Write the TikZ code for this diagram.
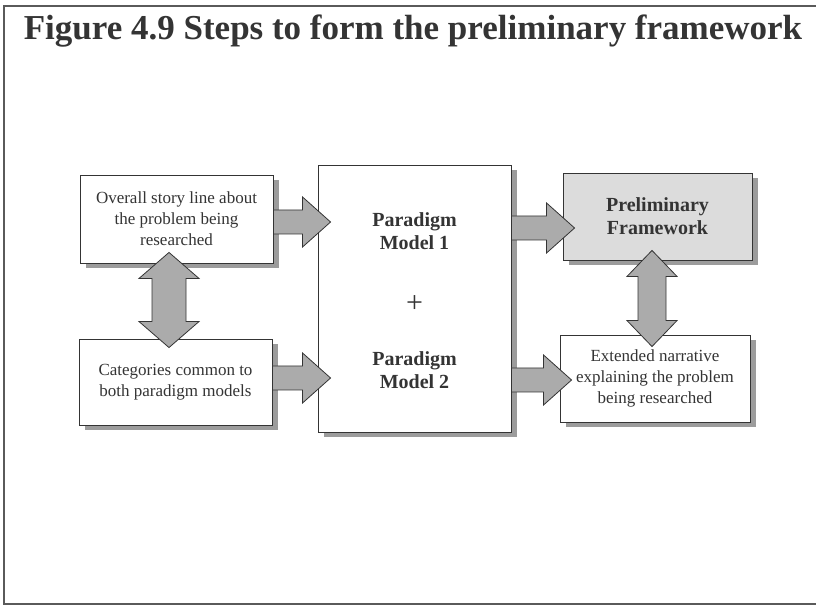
\documentclass[tikz,border=0pt]{standalone}
\usepackage{fontspec}
\setmainfont{Liberation Serif}
\usetikzlibrary{calc,shadows}

\definecolor{ink}{HTML}{343434}
\definecolor{framegray}{HTML}{5A5A5A}
\definecolor{shadowgray}{HTML}{9C9C9C}
\definecolor{arrowgray}{HTML}{ABABAB}
\definecolor{panelgray}{HTML}{DCDCDC}

% horizontal block arrow: tail coordinate, tip coordinate
\newcommand\blockright[2]{%
  \path[fatarrow] let \p1=(#1), \p2=(#2) in
    (\x1,\y1+12) -- (\x2-28,\y1+12) -- (\x2-28,\y1+25) -- (\x2,\y1)
    -- (\x2-28,\y1-25) -- (\x2-28,\y1-12) -- (\x1,\y1-12) -- cycle;}
% vertical two-headed block arrow: top tip, bottom tip, head half width, shaft half width
\newcommand\blockupdown[4]{%
  \path[fatarrow] let \p1=(#1), \p2=(#2) in
    (\x1,\y1) -- (\x1+#3,\y1-26) -- (\x1+#4,\y1-26) -- (\x1+#4,\y2+26)
    -- (\x1+#3,\y2+26) -- (\x1,\y2) -- (\x1-#3,\y2+26) -- (\x1-#4,\y2+26)
    -- (\x1-#4,\y1-26) -- (\x1-#3,\y1-26) -- cycle;}

\begin{document}
\begin{tikzpicture}[x=1pt,y=1pt,
  panel/.style={draw=ink, line width=0.9pt, fill=white, inner sep=0pt,
    align=center, text=ink, font=\fontsize{17}{21}\selectfont,
    drop shadow={shadow xshift=6pt, shadow yshift=-5pt, fill=shadowgray, opacity=1}},
  boldtext/.style={align=center, text=ink, inner sep=0pt,
    font=\fontsize{20}{23}\selectfont\bfseries},
  fatarrow/.style={draw=ink, line width=0.8pt, fill=arrowgray, line join=miter}]

\useasboundingbox (0,0) rectangle (816,608);
\fill[white] (0,0) rectangle (816,608);

% page frame
\draw[framegray, line width=1.2pt] (830,602) -- (4,602) -- (4,4) -- (830,4);

% title
\node[anchor=base, text=ink, inner sep=0pt, font=\fontsize{35}{40}\selectfont\bfseries]
  (title) at (413,568) {Figure 4.9 Steps to form the preliminary framework};

% boxes
\node[panel, minimum width=193pt, minimum height=88pt] (A) at (176.5,389)
  {Overall story line about\\the problem being\\researched};
\node[panel, minimum width=193pt, minimum height=86pt] (B) at (175.5,226)
  {Categories common to\\both paradigm models};
\node[panel, minimum width=193pt, minimum height=267pt] (M) at (414.5,309.5) {};
\node[panel, fill=panelgray, minimum width=189pt, minimum height=87pt,
  font=\fontsize{20}{23}\selectfont\bfseries] (P) at (657.5,391.5)
  {Preliminary\\Framework};
\node[panel, minimum width=190pt, minimum height=87pt] (E) at (655,229.5)
  {Extended narrative\\explaining the problem\\being researched};

% contents of the central box
\node[boldtext] (pm1) at ($(M.center)+(0,67.5)$) {Paradigm\\Model 1};
\node[text=ink, inner sep=0pt, font=\fontsize{30}{32}\selectfont] (plus) at ($(M.center)+(0,-5.5)$) {+};
\node[boldtext] (pm2) at ($(M.center)+(0,-71.5)$) {Paradigm\\Model 2};

% connector end points
\coordinate (a1) at ([yshift=-3pt]A.east);
\coordinate (a2) at ($(M.west |- a1)+(13,0)$);
\coordinate (b1) at ([yshift=4pt]B.east);
\coordinate (b2) at ($(M.west |- b1)+(13,0)$);
\coordinate (p2) at ([xshift=12pt,yshift=-11.5pt]P.west);
\coordinate (p1) at (M.east |- p2);
\coordinate (e2) at ([xshift=12pt,yshift=-1.5pt]E.west);
\coordinate (e1) at (M.east |- e2);
\coordinate (v1) at ($(A.south)+(-7.5,11)$);
\coordinate (v2) at ($(v1 |- B.north)+(0,-9)$);
\coordinate (w1) at ($(P.south)+(-5.5,10)$);
\coordinate (w2) at ($(w1 |- E.north)+(0,-12)$);

% block arrows
\blockright{a1}{a2}
\blockright{b1}{b2}
\blockright{p1}{p2}
\blockright{e1}{e2}
\blockupdown{v1}{v2}{30}{17}
\blockupdown{w1}{w2}{25}{14}

\end{tikzpicture}
\end{document}
